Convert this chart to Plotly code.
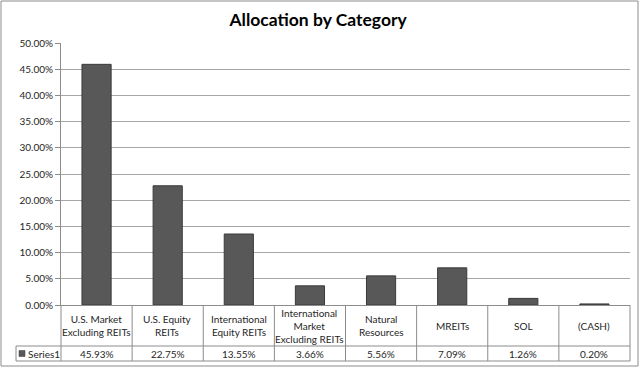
import plotly.graph_objects as go

categories = ["U.S. Market<br>Excluding REITs", "U.S. Equity<br>REITs", "International<br>Equity REITs",
              "International<br>Market<br>Excluding REITs", "Natural<br>Resources", "MREITs", "SOL", "(CASH)"]
values = [45.93, 22.75, 13.55, 3.66, 5.56, 7.09, 1.26, 0.20]
series_name = "Series1"
y_ticks = [0, 5, 10, 15, 20, 25, 30, 35, 40, 45, 50]

W, H = 640, 368
ml, mr, mt, mb = 61, 10, 43, 63
pw, ph = W - ml - mr, H - mt - mb

def px_x(p):
    return (p - ml) / pw

def px_y(p):
    return (H - mb - p) / ph

font = "Lato, 'Open Sans', sans-serif"
grid_col = "#a6a6a6"
line_col = "#8c8c8c"
text_col = "#262626"

n = len(categories)
xs = list(range(n))

fig = go.Figure()
fig.add_trace(go.Bar(
    x=xs, y=values, name=series_name,
    marker=dict(color="#585858", line=dict(color="#3a3a3a", width=1)),
    width=0.41, hoverinfo="y",
))

shapes = []
# outer border
shapes.append(dict(type="rect", xref="paper", yref="paper",
                   x0=px_x(1), x1=px_x(638), y0=px_y(366), y1=px_y(1),
                   line=dict(color="#8c8c8c", width=1), layer="below"))
row1_bot = px_y(346)
row2_bot = px_y(361)
# table vertical lines
for k in range(n + 1):
    shapes.append(dict(type="line", xref="paper", yref="paper",
                       x0=k / n, x1=k / n, y0=0, y1=row2_bot,
                       line=dict(color=line_col, width=1)))
# left cell of series row
shapes.append(dict(type="line", xref="paper", yref="paper",
                   x0=px_x(16), x1=px_x(16), y0=row1_bot, y1=row2_bot,
                   line=dict(color=line_col, width=1)))
# horizontal lines
for yy in (row1_bot, row2_bot):
    shapes.append(dict(type="line", xref="paper", yref="paper",
                       x0=px_x(16), x1=1, y0=yy, y1=yy,
                       line=dict(color=line_col, width=1)))
# legend key square
shapes.append(dict(type="rect", xref="paper", yref="paper",
                   x0=px_x(19), x1=px_x(25), y0=px_y(356.5), y1=px_y(350.5),
                   fillcolor="#585858", line=dict(color="#3a3a3a", width=0.5)))

annotations = []
for i, (c, v) in enumerate(zip(categories, values)):
    annotations.append(dict(x=i, xref="x", y=(0 + row1_bot) / 2, yref="paper",
                            xanchor="center", yanchor="middle",
                            text=c, showarrow=False,
                            font=dict(family=font, size=10, color=text_col)))
    annotations.append(dict(x=i, xref="x", y=(row1_bot + row2_bot) / 2, yref="paper",
                            xanchor="center", yanchor="middle",
                            text=f"{v:.2f}%", showarrow=False,
                            font=dict(family=font, size=10, color=text_col)))
annotations.append(dict(x=px_x(26), xref="paper", y=(row1_bot + row2_bot) / 2, yref="paper",
                        xanchor="left", yanchor="middle", text=series_name, showarrow=False,
                        font=dict(family=font, size=10, color=text_col)))

fig.update_layout(
    width=W, height=H,
    margin=dict(l=ml, r=mr, t=mt, b=mb),
    paper_bgcolor="white", plot_bgcolor="white",
    title=dict(text="<b>Allocation by Category</b>", x=0.497, xanchor="center",
               y=1 - 20 / H, yanchor="middle",
               font=dict(family=font, size=17.5, color="#000000")),
    showlegend=False,
    bargap=0.59,
    xaxis=dict(range=[-0.5, n - 0.5], showticklabels=False, showgrid=False,
               zeroline=False, showline=True, linecolor=line_col, ticks=""),
    yaxis=dict(range=[0, 50], tickvals=y_ticks,
               ticktext=[f"{t:.2f}%" for t in y_ticks],
               showgrid=True, gridcolor=grid_col, gridwidth=1,
               zeroline=False, showline=True, linecolor=line_col,
               ticks="outside", ticklen=5, tickcolor=line_col,
               tickfont=dict(family=font, size=10, color=text_col)),
    shapes=shapes,
    annotations=annotations,
)

fig.write_html("out.html", config={"displayModeBar": False},
               post_script="document.body.style.margin='0';document.body.style.overflow='hidden';")
